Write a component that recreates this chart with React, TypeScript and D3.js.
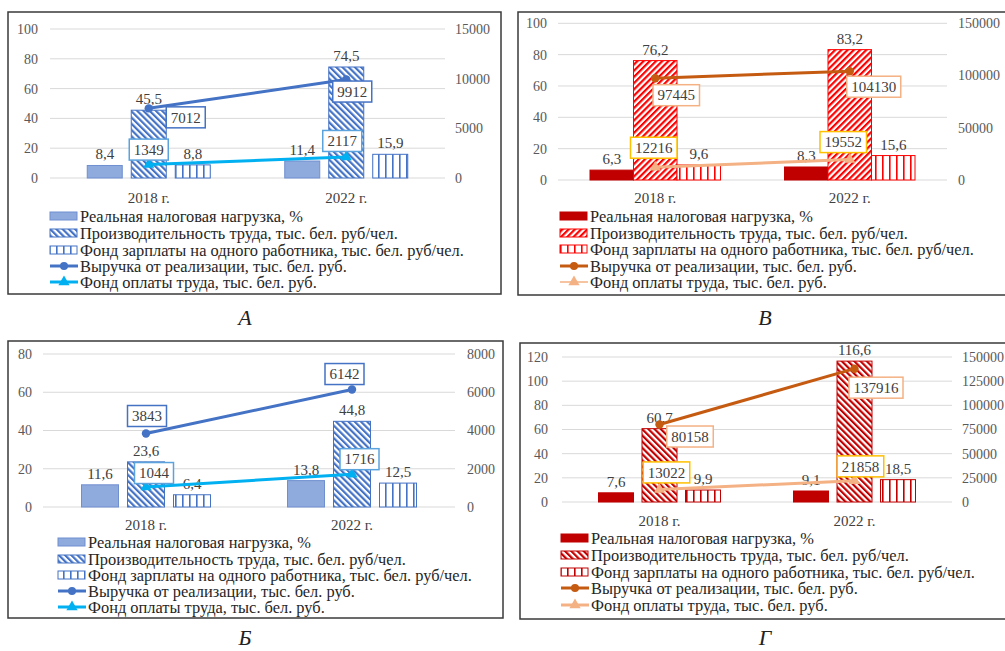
import React from "react";
import * as d3 from "d3";

const years = ["2018 г.", "2022 г."];
const legendLabels = [
  "Реальная налоговая нагрузка, %",
  "Производительность труда, тыс. бел. руб/чел.",
  "Фонд зарплаты на одного работника, тыс. бел. руб/чел.",
  "Выручка от реализации, тыс. бел. руб.",
  "Фонд оплаты труда, тыс. бел. руб.",
];

// Panel А
const taxA = [8.4, 11.4];
const prodA = [45.5, 74.5];
const wageA = [8.8, 15.9];
const revA = [7012, 9912];
const fundA = [1349, 2117];
const leftTicksA = [0, 20, 40, 60, 80, 100];
const rightTicksA = [0, 5000, 10000, 15000];

// Panel В
const taxV = [6.3, 8.3];
const prodV = [76.2, 83.2];
const wageV = [9.6, 15.6];
const revV = [97445, 104130];
const fundV = [12216, 19552];
const leftTicksV = [0, 20, 40, 60, 80, 100];
const rightTicksV = [0, 50000, 100000, 150000];

// Panel Б
const taxB = [11.6, 13.8];
const prodB = [23.6, 44.8];
const wageB = [6.4, 12.5];
const revB = [3843, 6142];
const fundB = [1044, 1716];
const leftTicksB = [0, 20, 40, 60, 80];
const rightTicksB = [0, 2000, 4000, 6000, 8000];

// Panel Г
const taxG = [7.6, 9.1];
const prodG = [60.7, 116.6];
const wageG = [9.9, 18.5];
const revG = [80158, 137916];
const fundG = [13022, 21858];
const leftTicksG = [0, 20, 40, 60, 80, 100, 120];
const rightTicksG = [0, 25000, 50000, 75000, 100000, 125000, 150000];

const FONT = "Liberation Serif";
const TS: React.CSSProperties = { fontFamily: FONT };

type Cfg = {
  id: string;
  caption: string;
  captionX: number;
  captionY: number;
  border: number[];
  plotX: number[];
  plotY: number[];
  leftTicks: number[];
  rightTicks: number[];
  leftLabelX: number;
  rightLabelX: number;
  barW: number;
  barGap: number;
  xLabelY: number;
  legendX: number;
  legendY: number[];
  bar1Fill: string;
  bar1Stroke: string;
  hatch: string;
  hatchAngle: number;
  vert: string;
  line1: string;
  line2: string;
  box1: string;
  box2: string;
  line2Legend: number;
  tax: number[];
  prod: number[];
  wage: number[];
  rev: number[];
  fund: number[];
  revOff: number[][];
  fundOff: number[][];
};

const fmt1 = (v: number) => d3.format(".1f")(v).replace(".", ",");

function Panel({ c }: { c: Cfg }) {
  const x0 = d3.scaleBand<string>().domain(years).range([c.plotX[0], c.plotX[1]]).paddingInner(0).paddingOuter(0);
  const groupW = 3 * c.barW + 2 * c.barGap;
  const x1 = d3
    .scaleBand<number>()
    .domain([0, 1, 2])
    .range([-groupW / 2, groupW / 2])
    .paddingInner(c.barGap / (c.barW + c.barGap))
    .paddingOuter(0);
  const yL = d3.scaleLinear().domain([0, d3.max(c.leftTicks)!]).range([c.plotY[0], c.plotY[1]]);
  const yR = d3.scaleLinear().domain([0, d3.max(c.rightTicks)!]).range([c.plotY[0], c.plotY[1]]);
  const cx = (i: number) => x0(years[i])! + x0.bandwidth() / 2;

  const barSeries = [c.tax, c.prod, c.wage];
  const fills = [c.bar1Fill, `url(#hatch-${c.id})`, `url(#vert-${c.id})`];
  const strokes = [c.bar1Stroke, c.hatch, c.vert];

  const line = d3
    .line<number>()
    .x((_, i) => cx(i))
    .y((d) => yR(d));
  const tri = d3.symbol().type(d3.symbolTriangle).size(55)()!;

  const boxW = (s: string) => s.length * 7.5 + 9;

  return (
    <g>
      <defs>
        <pattern id={`hatch-${c.id}`} patternUnits="userSpaceOnUse" width={4.4} height={8} patternTransform={`rotate(${c.hatchAngle})`}>
          <rect width={4.4} height={8} fill="#fff" />
          <rect width={2.2} height={8} fill={c.hatch} />
        </pattern>
        <pattern id={`vert-${c.id}`} patternUnits="userSpaceOnUse" width={7} height={8}>
          <rect width={7} height={8} fill="#fff" />
          <rect x={0} width={1.6} height={8} fill={c.vert} />
        </pattern>
      </defs>
      <rect x={c.border[0]} y={c.border[1]} width={c.border[2] - c.border[0]} height={c.border[3] - c.border[1]} fill="none" stroke="#3a3a3a" strokeWidth={1.5} />
      {c.leftTicks.map((t) => (
        <line key={t} x1={c.plotX[0]} x2={c.plotX[1]} y1={yL(t)} y2={yL(t)} stroke="#d9d9d9" strokeWidth={1} />
      ))}
      {c.leftTicks.map((t) => (
        <text key={"l" + t} style={TS} x={c.leftLabelX} y={yL(t)} dy="0.35em" textAnchor="end" fontSize={14} fill="#595959">
          {t}
        </text>
      ))}
      {c.rightTicks.map((t) => (
        <text key={"r" + t} style={TS} x={c.rightLabelX} y={yR(t)} dy="0.35em" textAnchor="start" fontSize={14} fill="#595959">
          {t}
        </text>
      ))}
      {years.map((y, i) => (
        <text key={y} style={TS} x={cx(i)} y={c.xLabelY} dy="0.35em" textAnchor="middle" fontSize={15} fill="#404040">
          {y}
        </text>
      ))}
      {barSeries.map((s, si) =>
        s.map((v, i) => {
          const bx = cx(i) + x1(si)!;
          return (
            <rect key={`${si}-${i}`} x={bx} y={yL(v)} width={x1.bandwidth()} height={yL(0) - yL(v)} fill={fills[si]} stroke={strokes[si]} strokeWidth={1} />
          );
        })
      )}
      {barSeries.map((s, si) =>
        s.map((v, i) => (
          <text key={`bl${si}-${i}`} style={TS} x={cx(i) + x1(si)! + x1.bandwidth() / 2} y={yL(v) - 6} textAnchor="middle" fontSize={15} fill="#404040">
            {fmt1(v)}
          </text>
        ))
      )}
      <path d={line(c.rev)!} fill="none" stroke={c.line1} strokeWidth={3} />
      <path d={line(c.fund)!} fill="none" stroke={c.line2} strokeWidth={3} />
      {c.rev.map((v, i) => (
        <circle key={"rc" + i} cx={cx(i)} cy={yR(v)} r={4.2} fill={c.line1} />
      ))}
      {c.fund.map((v, i) => (
        <path key={"ft" + i} d={tri} transform={`translate(${cx(i)},${yR(v)})`} fill={c.line2} />
      ))}
      {c.rev.map((v, i) => {
        const s = String(v);
        const w = boxW(s);
        const bx = cx(i) + c.revOff[i][0];
        const by = yR(v) + c.revOff[i][1];
        return (
          <g key={"rl" + i}>
            <rect x={bx - w / 2} y={by - 10.5} width={w} height={21} fill="#fff" stroke={c.box1} strokeWidth={1.5} />
            <text style={TS} x={bx} y={by} dy="0.35em" textAnchor="middle" fontSize={15} fill="#404040">
              {s}
            </text>
          </g>
        );
      })}
      {c.fund.map((v, i) => {
        const s = String(v);
        const w = boxW(s);
        const bx = cx(i) + c.fundOff[i][0];
        const by = yR(v) + c.fundOff[i][1];
        return (
          <g key={"fl" + i}>
            <rect x={bx - w / 2} y={by - 10.5} width={w} height={21} fill="#fff" stroke={c.box2} strokeWidth={1.5} />
            <text style={TS} x={bx} y={by} dy="0.35em" textAnchor="middle" fontSize={15} fill="#404040">
              {s}
            </text>
          </g>
        );
      })}
      {legendLabels.map((lab, li) => {
        const ly = c.legendY[li];
        const sx = c.legendX;
        let sym: React.ReactNode;
        if (li < 3) {
          sym = <rect x={sx} y={ly - 4} width={27} height={8} fill={fills[li]} stroke={strokes[li]} strokeWidth={1} />;
        } else if (li === 3) {
          sym = (
            <g>
              <line x1={sx} x2={sx + 28} y1={ly} y2={ly} stroke={c.line1} strokeWidth={3} />
              <circle cx={sx + 14} cy={ly} r={4} fill={c.line1} />
            </g>
          );
        } else {
          sym = (
            <g>
              <line x1={sx} x2={sx + 28} y1={ly} y2={ly} stroke={c.line2} strokeWidth={c.line2Legend} />
              <path d={tri} transform={`translate(${sx + 14},${ly})`} fill={c.line2} />
            </g>
          );
        }
        return (
          <g key={"lg" + li}>
            {sym}
            <text style={TS} x={sx + 30} y={ly} dy="0.35em" fontSize={16.4} fill="#262626">
              {lab}
            </text>
          </g>
        );
      })}
      <text style={TS} x={c.captionX} y={c.captionY} textAnchor="middle" fontSize={22} fontStyle="italic" fill="#222">
        {c.caption}
      </text>
    </g>
  );
}

const blue = {
  bar1Fill: "#8faadc",
  bar1Stroke: "#6f8fd0",
  hatch: "#4472c4",
  vert: "#4472c4",
  line1: "#4472c4",
  line2: "#00b0f0",
  box1: "#4472c4",
  box2: "#5ba3dd",
  line2Legend: 3,
};

const panels: Cfg[] = [
  {
    id: "a",
    caption: "А",
    captionX: 245,
    captionY: 325,
    border: [8, 12, 501, 294],
    plotX: [50, 445],
    plotY: [178, 29],
    leftTicks: leftTicksA,
    rightTicks: rightTicksA,
    leftLabelX: 38,
    rightLabelX: 455,
    barW: 35,
    barGap: 9,
    xLabelY: 198,
    legendX: 50,
    legendY: [216, 233, 250, 266, 282],
    ...blue,
    hatchAngle: -45,
    tax: taxA,
    prod: prodA,
    wage: wageA,
    rev: revA,
    fund: fundA,
    revOff: [[37, 9], [6, 12]],
    fundOff: [[0, -15], [-4, -16]],
  },
  {
    id: "v",
    caption: "В",
    captionX: 765,
    captionY: 325,
    border: [518, 12, 1012, 295],
    plotX: [558, 947],
    plotY: [180, 23.3],
    leftTicks: leftTicksV,
    rightTicks: rightTicksV,
    leftLabelX: 547,
    rightLabelX: 958,
    barW: 43.5,
    barGap: 0,
    xLabelY: 198,
    legendX: 560,
    legendY: [216, 233, 249, 266, 282],
    bar1Fill: "#c00000",
    bar1Stroke: "#c00000",
    hatch: "#ff0000",
    vert: "#ff0000",
    line1: "#c55a11",
    line2: "#f4b183",
    box1: "#f4b183",
    box2: "#ffc000",
    line2Legend: 1.5,
    hatchAngle: 45,
    tax: taxV,
    prod: prodV,
    wage: wageV,
    rev: revV,
    fund: fundV,
    revOff: [[21, 17], [24, 15.5]],
    fundOff: [[-1.5, -19.5], [-6.5, -17.5]],
  },
  {
    id: "b",
    caption: "Б",
    captionX: 245,
    captionY: 645,
    border: [8, 341, 503, 618],
    plotX: [43, 455],
    plotY: [507, 354],
    leftTicks: leftTicksB,
    rightTicks: rightTicksB,
    leftLabelX: 32,
    rightLabelX: 467,
    barW: 37,
    barGap: 9,
    xLabelY: 525,
    legendX: 58,
    legendY: [542, 559, 575, 591, 607],
    ...blue,
    hatchAngle: -45,
    tax: taxB,
    prod: prodB,
    wage: wageB,
    rev: revB,
    fund: fundB,
    revOff: [[1, -17.5], [-7.5, -15.5]],
    fundOff: [[8, -14], [7.5, -15]],
  },
  {
    id: "g",
    caption: "Г",
    captionX: 765,
    captionY: 645,
    border: [520, 343, 1012, 619],
    plotX: [562, 952],
    plotY: [502, 357],
    leftTicks: leftTicksG,
    rightTicks: rightTicksG,
    leftLabelX: 548,
    rightLabelX: 962,
    barW: 35,
    barGap: 8.5,
    xLabelY: 521,
    legendX: 561,
    legendY: [538, 555, 572, 588, 605],
    bar1Fill: "#c00000",
    bar1Stroke: "#c00000",
    hatch: "#c00000",
    vert: "#c00000",
    line1: "#c55a11",
    line2: "#f4b183",
    box1: "#f4b183",
    box2: "#ffc000",
    line2Legend: 3,
    hatchAngle: -45,
    tax: taxG,
    prod: prodG,
    wage: wageG,
    rev: revG,
    fund: fundG,
    revOff: [[30.5, 12], [21.5, 19]],
    fundOff: [[7, -17], [6, -14.5]],
  },
];

export default function App() {
  return (
    <svg width={1005} height={651} style={{ position: "absolute", left: 0, top: 0, background: "#fff" }}>
      <rect width={1005} height={651} fill="#fff" />
      {panels.map((p) => (
        <Panel key={p.id} c={p} />
      ))}
    </svg>
  );
}
